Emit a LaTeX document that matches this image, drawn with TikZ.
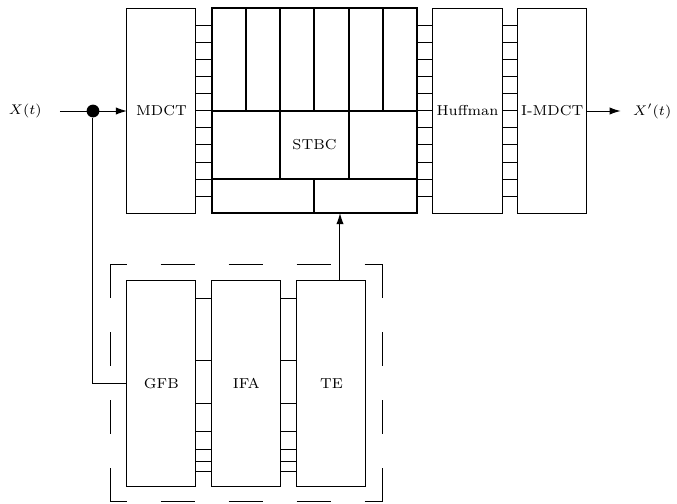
\documentclass[tikz,border=0pt]{standalone}
\usetikzlibrary{arrows.meta,calc}
\begin{document}
\begin{tikzpicture}[x=0.5pt,y=-0.5pt,
  txt/.style={font=\fontsize{7.2}{8.5}\selectfont},
  blk/.style={draw,line width=0.5pt,inner sep=0pt,outer sep=0pt,minimum height=102.5pt,txt},
  thk/.style={line width=1pt},
  thin/.style={line width=0.5pt},
  arr/.style={thin,-{Latex[length=5.5pt,width=3.6pt]}},
  dashbox/.style={thin,dash pattern=on 17pt off 17pt}]
\useasboundingbox (0,0) rectangle (677,504);
% top row
\node[blk,minimum width=34.5pt] (mdct) at (161.5,110.5) {MDCT};
\node[draw,thk,inner sep=0pt,outer sep=0pt,minimum width=102.8pt,minimum height=102.5pt] (stbc) at (314.5,110.5) {};
\node[blk,minimum width=34.8pt] (huff) at (467.5,110.5) {Huffman};
\node[blk,minimum width=34.5pt] (imdct) at (552.2,110.5) {I-MDCT};
% STBC grid
\draw[thk] (211.7,110.7) -- (417.3,110.7);
\draw[thk] (211.7,178.7) -- (417.3,178.7);
\foreach \x in {246,280.2,314.5,348.8,383} \draw[thk] (\x,8) -- (\x,110.7);
\foreach \x in {280.2,348.8} \draw[thk] (\x,110.7) -- (\x,178.7);
\draw[thk] (314.5,178.7) -- (314.5,213);
\node[txt] (stbclab) at (314.5,144.7) {STBC};
% rungs
\foreach \y in {25.7,42.7,59.8,76.8,93.8,110.9,127.9,144.9,162,179,196}{
  \coordinate (r) at (0,\y);
  \draw[thin] (mdct.east |- r) -- (stbc.west |- r);
  \draw[thin] (stbc.east |- r) -- (huff.west |- r);
  \draw[thin] (huff.east |- r) -- (imdct.west |- r);
}
% input / output
\node[txt,inner xsep=9pt,inner ysep=0pt,anchor=east] (xin) at (60,111) {$X(t)$};
\node[circle,fill,inner sep=0pt,minimum size=6.4pt] (dot) at (93,111) {};
\draw[arr] (xin.east) -- (mdct.west |- xin.east);
\node[txt,inner xsep=6pt,inner ysep=0pt,anchor=west] (xout) at (620.7,111) {$X'(t)$};
\draw[arr] (imdct.east |- xout.west) -- (xout.west);
% lower blocks
\node[blk,minimum width=34.65pt,minimum height=102.65pt] (gfb) at (161.35,383.35) {GFB};
\node[blk,minimum width=34.65pt,minimum height=102.65pt] (ifa) at (246.35,383.35) {IFA};
\node[blk,minimum width=34.5pt,minimum height=102.65pt] (te) at (331.5,383.35) {TE};
\foreach \y in {298.3,360.7,403.7,431,449.7,461.3,471.3}{
  \coordinate (r) at (0,\y);
  \draw[thin] (gfb.east |- r) -- (ifa.west |- r);
  \draw[thin] (ifa.east |- r) -- (te.west |- r);
}
% feedback
\draw[thin] (dot) |- (gfb.west);
\coordinate (tx) at (340,0);
\draw[arr] (te.north -| tx) -- (stbc.south -| tx);
% dashed frame
\draw[dashbox,dash phase=9pt] (110.7,264.3) -- (382.7,264.3);
\draw[dashbox,dash phase=9pt] (110.7,501.7) -- (382.7,501.7);
\draw[dashbox] (110.7,264.3) -- (110.7,501.7);
\draw[dashbox] (382.7,264.3) -- (382.7,501.7);
\end{tikzpicture}
\end{document}
